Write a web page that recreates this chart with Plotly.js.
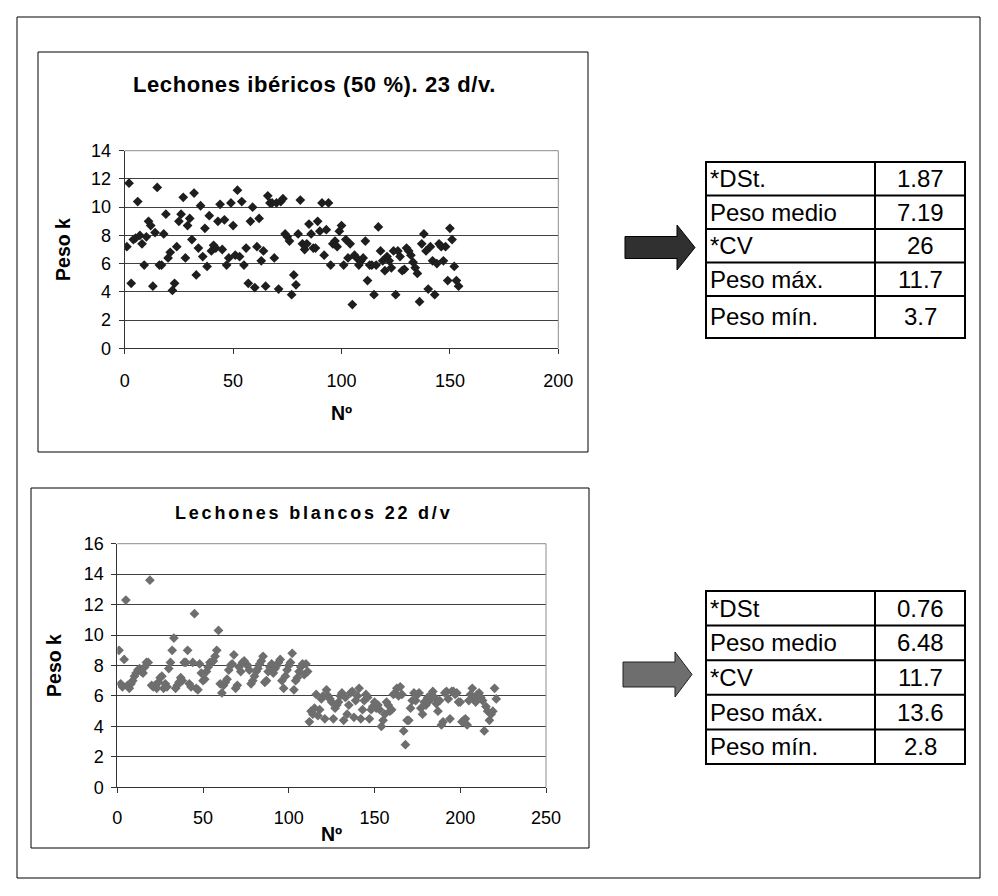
<!DOCTYPE html>
<html>
<head>
<meta charset="utf-8">
<script src="https://cdn.plot.ly/plotly-3.0.1.min.js"></script>
<style>
  html, body { margin: 0; padding: 0; background: #fff; }
  #chart { width: 998px; height: 896px; }
</style>
</head>
<body>
<div id="chart"></div>
<script>
// ---- Lechones ibéricos (50 %), 23 días de vida ----
const ibericosN = [1,2,3,4,5,6,7,8,9,10,11,12,13,14,15,16,17,18,19,20,21,22,23,24,25,26,27,28,29,30,
  31,32,33,34,35,36,37,38,39,40,41,42,43,44,45,46,47,48,49,50,51,52,53,54,55,56,57,58,59,60,
  61,62,63,64,65,66,67,68,69,70,71,72,73,74,75,76,77,78,79,80,81,82,83,84,85,86,87,88,89,90,
  91,92,93,94,95,96,97,98,99,100,101,102,103,104,105,106,107,108,109,110,111,112,113,114,115,116,117,118,119,120,
  121,122,123,124,125,126,127,128,129,130,131,132,133,134,135,136,137,138,139,140,141,142,143,144,145,146,147,148,149,150,
  151,152,153,154];
const ibericosPeso = [7.2,11.7,4.6,7.7,7.8,10.4,8.0,7.4,5.9,7.9,9.0,8.7,4.4,8.2,11.4,5.9,5.9,8.1,9.5,6.4,
  6.8,4.1,4.6,7.2,9.0,9.5,10.7,6.4,8.7,9.2,7.7,11.0,5.2,7.1,10.1,6.5,8.5,5.8,9.4,6.9,
  7.3,7.1,9.0,10.2,7.0,9.1,5.9,6.4,10.3,8.7,6.6,11.2,6.5,10.4,5.9,7.1,4.6,9.0,10.0,4.3,
  7.2,9.2,6.2,6.9,4.4,10.8,10.3,10.3,6.4,10.3,4.2,10.4,10.6,8.1,7.9,7.6,3.8,5.2,4.5,8.1,
  10.5,7.4,7.0,7.4,8.8,8.1,7.1,7.1,9.0,8.3,10.3,6.6,8.4,10.3,5.9,7.4,7.6,7.2,8.3,8.7,
  5.9,7.7,6.4,7.4,3.1,6.6,6.4,5.9,6.2,6.4,7.6,4.8,5.9,5.9,3.8,5.9,8.6,6.9,6.2,5.5,
  6.5,6.2,5.7,6.9,3.8,6.9,6.5,5.5,5.6,7.1,6.9,6.6,6.1,5.7,5.3,3.3,7.4,8.1,6.9,4.2,
  7.2,6.2,3.8,6.0,7.4,7.2,6.2,7.2,4.8,8.5,7.7,5.8,4.8,4.4];

// ---- Lechones blancos, 22 días de vida ----
const blancosN = [1,2,3,4,5,6,7,8,9,10,11,12,13,14,15,16,17,18,19,20,21,22,23,24,25,26,27,28,29,30,
  31,32,33,34,35,36,37,38,39,40,41,42,43,44,45,46,47,48,49,50,51,52,53,54,55,56,57,58,59,60,
  61,62,63,64,65,66,67,68,69,70,71,72,73,74,75,76,77,78,79,80,81,82,83,84,85,86,87,88,89,90,
  91,92,93,94,95,96,97,98,99,100,101,102,103,104,105,106,107,108,109,110,111,112,113,114,115,116,117,118,119,120,
  121,122,123,124,125,126,127,128,129,130,131,132,133,134,135,136,137,138,139,140,141,142,143,144,145,146,147,148,149,150,
  151,152,153,154,155,156,157,158,159,160,161,162,163,164,165,166,167,168,169,170,171,172,173,174,175,176,177,178,179,180,
  181,182,183,184,185,186,187,188,189,190,191,192,193,194,195,196,197,198,199,200,201,202,203,204,205,206,207,208,209,210,
  211,212,213,214,215,216,217,218,219,220,221];
const blancosPeso = [9.0,6.8,6.6,8.4,12.3,6.7,6.5,6.8,7.0,7.3,7.5,7.7,7.8,7.6,7.5,7.9,8.2,8.2,13.6,6.7,
  6.6,6.7,6.5,6.9,7.2,7.3,6.5,6.8,6.6,7.8,8.2,9.0,9.8,6.5,6.7,6.9,7.2,7.0,8.2,8.2,
  9.0,6.8,6.6,8.2,11.4,6.5,6.4,8.1,7.5,7.0,7.1,7.6,7.9,8.2,8.2,8.3,8.6,9.0,10.3,6.8,
  6.2,6.7,6.9,7.1,7.7,8.0,8.1,8.7,6.5,6.7,7.9,7.6,8.2,8.3,8.1,8.0,7.7,6.8,7.0,7.3,
  7.6,7.8,8.1,8.3,8.6,6.9,7.0,7.6,7.9,8.1,7.5,7.8,8.0,8.2,8.4,7.0,6.5,7.3,7.7,8.0,
  8.2,8.8,6.4,7.0,7.2,7.6,7.9,8.1,7.4,8.1,7.6,4.3,5.0,4.8,5.2,6.1,4.7,5.1,5.8,6.0,
  4.5,6.4,6.0,5.8,5.6,4.5,5.2,5.4,5.6,6.0,6.2,4.4,5.9,4.8,5.4,6.2,6.3,4.6,5.7,6.0,
  6.5,4.5,5.1,5.7,6.1,5.9,4.5,5.1,5.3,5.6,5.2,5.4,5.1,4.0,4.4,4.8,5.6,5.4,5.0,5.1,
  6.1,6.2,6.5,6.0,6.6,6.1,3.7,2.8,4.4,4.4,5.2,5.7,6.2,5.7,6.1,6.2,5.2,4.8,5.6,5.4,
  5.9,5.7,6.1,6.3,5.9,5.5,5.0,5.7,4.1,4.3,6.2,6.3,5.8,4.5,6.3,6.3,6.1,6.2,5.6,5.6,
  4.3,4.4,4.5,4.1,5.7,6.1,6.5,5.8,5.6,6.1,6.2,5.9,5.7,3.7,5.3,5.0,4.4,4.8,5.0,6.5,5.8];

// Axis ticks
const xTicksIbericos = [0, 50, 100, 150, 200];
const yTicksIbericos = [0, 2, 4, 6, 8, 10, 12, 14];
const xTicksBlancos = [0, 50, 100, 150, 200, 250];
const yTicksBlancos = [0, 2, 4, 6, 8, 10, 12, 14, 16];

// Summary tables
const statLabelsIbericos = ['*DSt.', 'Peso medio', '*CV', 'Peso máx.', 'Peso mín.'];
const statValuesIbericos = ['1.87', '7.19', '26', '11.7', '3.7'];
const statLabelsBlancos = ['*DSt', 'Peso medio', '*CV', 'Peso máx.', 'Peso mín.'];
const statValuesBlancos = ['0.76', '6.48', '11.7', '13.6', '2.8'];

// ---- page geometry (pixels) ----
const W = 998, H = 896;
const fx = p => p / W;          // pixel -> paper x
const fy = p => 1 - p / H;      // pixel -> paper y
const FONT = 'Liberation Sans, Arial, sans-serif';

const plotTop = { x0: 124.7, x1: 558.3, y0: 150.7, y1: 348.3 };
const plotBot = { x0: 117.3, x1: 546.0, y0: 543.7, y1: 787.3 };

const tickFont = { family: FONT, size: 18, color: '#000' };
const axisTitleFont = { family: FONT, size: 19.5, color: '#000', weight: 'bold' };

function xAxis(plot, ticks, range, anchor, standoff, titleStandoff) {
  return {
    domain: [fx(plot.x0), fx(plot.x1)], range: range, anchor: anchor,
    tickvals: ticks, ticks: 'outside', ticklen: 5, tickwidth: 1, tickcolor: '#333',
    showline: true, linecolor: '#333', linewidth: 1,
    showgrid: false, zeroline: false, tickfont: tickFont,
    ticklabelstandoff: standoff,
    title: { text: 'Nº', font: axisTitleFont, standoff: titleStandoff },
    fixedrange: true
  };
}
function yAxis(plot, ticks, range, anchor, titleStandoff) {
  return {
    domain: [fy(plot.y1), fy(plot.y0)], range: range, anchor: anchor,
    tickvals: ticks, ticks: 'outside', ticklen: 5, tickwidth: 1, tickcolor: '#333',
    showline: true, linecolor: '#333', linewidth: 1,
    showgrid: true, gridcolor: '#404040', gridwidth: 1,
    zeroline: false, tickfont: tickFont, ticklabelstandoff: 4,
    title: { text: 'Peso k', font: axisTitleFont, standoff: titleStandoff },
    fixedrange: true
  };
}

const traces = [
  { type: 'scatter', mode: 'markers', x: ibericosN, y: ibericosPeso, xaxis: 'x', yaxis: 'y',
    marker: { symbol: 'diamond', size: 7.5, color: '#1e1e1e' }, hoverinfo: 'x+y' },
  { type: 'scatter', mode: 'markers', x: blancosN, y: blancosPeso, xaxis: 'x2', yaxis: 'y2',
    marker: { symbol: 'diamond', size: 7.5, color: '#6e6e6e' }, hoverinfo: 'x+y' }
];

const shapes = [];
const annotations = [];
function rect(x0, y0, x1, y1, color, width, layer) {
  shapes.push({ type: 'rect', xref: 'paper', yref: 'paper',
    x0: fx(x0), x1: fx(x1), y0: fy(y1), y1: fy(y0),
    line: { color: color, width: width }, fillcolor: 'rgba(0,0,0,0)', layer: layer || 'below' });
}
function line(x0, y0, x1, y1, color, width, layer) {
  shapes.push({ type: 'line', xref: 'paper', yref: 'paper',
    x0: fx(x0), x1: fx(x1), y0: fy(y0), y1: fy(y1),
    line: { color: color, width: width }, layer: layer || 'above' });
}

// outer frame and chart boxes
rect(17, 17, 980, 878, '#000', 1);
rect(38, 52, 588, 452, '#000', 1);
rect(31, 488, 589, 848, '#000', 1);

// plot-area edges (top and right)
[plotTop, plotBot].forEach(p => {
  line(p.x0, p.y0, p.x1, p.y0, '#8c8c8c', 1);
  line(p.x1, p.y0, p.x1, p.y1, '#8c8c8c', 1);
});

// chart titles
annotations.push({ xref: 'paper', yref: 'paper', x: fx(314), y: fy(85), xanchor: 'center', yanchor: 'middle',
  text: '<span style="letter-spacing:0.6px">Lechones ibéricos (50 %). 23 d/v.</span>', showarrow: false,
  font: { family: FONT, size: 22, color: '#000', weight: 'bold' } });
annotations.push({ xref: 'paper', yref: 'paper', x: fx(313), y: fy(513), xanchor: 'center', yanchor: 'middle',
  text: '<span style="letter-spacing:2.8px">Lechones blancos 22 d/v</span>', showarrow: false,
  font: { family: FONT, size: 18, color: '#000', weight: 'bold' } });

// arrows pointing to the tables
function arrow(x0, xHead, xTip, yc, shaftHalf, headHalf, fill, stroke) {
  const pts = [[x0, yc - shaftHalf], [xHead, yc - shaftHalf], [xHead, yc - headHalf], [xTip, yc],
               [xHead, yc + headHalf], [xHead, yc + shaftHalf], [x0, yc + shaftHalf]];
  const d = 'M ' + pts.map(p => fx(p[0]).toFixed(5) + ',' + fy(p[1]).toFixed(5)).join(' L ') + ' Z';
  shapes.push({ type: 'path', xref: 'paper', yref: 'paper', path: d,
    fillcolor: fill, line: { color: stroke, width: 1 }, layer: 'above' });
}
arrow(625, 677, 695, 247.5, 11, 22.5, '#303030', '#000');
arrow(623, 675, 692, 674.5, 12.5, 22.5, '#6e6e6e', '#222');

// summary tables
function table(labels, values, rows, xl, xm, xr) {
  rect(xl, rows[0], xr, rows[rows.length - 1], '#000', 2, 'above');
  line(xm, rows[0], xm, rows[rows.length - 1], '#000', 2);
  for (let i = 1; i < rows.length - 1; i++) line(xl, rows[i], xr, rows[i], '#000', 2);
  labels.forEach((lab, i) => {
    const yc = (rows[i] + rows[i + 1]) / 2;
    annotations.push({ xref: 'paper', yref: 'paper', x: fx(xl + 2), y: fy(yc), xanchor: 'left', yanchor: 'middle',
      text: lab, showarrow: false, font: { family: FONT, size: 24, color: '#000' } });
    annotations.push({ xref: 'paper', yref: 'paper', x: fx((xm + xr) / 2), y: fy(yc), xanchor: 'center', yanchor: 'middle',
      text: values[i], showarrow: false, font: { family: FONT, size: 24, color: '#000' } });
  });
}
table(statLabelsIbericos, statValuesIbericos, [162, 195.5, 229, 262.5, 296, 338], 706, 875, 965);
table(statLabelsBlancos, statValuesBlancos, [591, 625.6, 660.2, 694.8, 729.4, 764], 706, 875, 965);

const layout = {
  width: W, height: H,
  margin: { l: 0, r: 0, t: 0, b: 0, pad: 0 },
  paper_bgcolor: '#fff', plot_bgcolor: 'rgba(0,0,0,0)',
  showlegend: false,
  font: { family: FONT, color: '#000' },
  xaxis: xAxis(plotTop, xTicksIbericos, [0, 200], 'y', 11, 16),
  yaxis: yAxis(plotTop, yTicksIbericos, [0, 14], 'x', 15),
  xaxis2: xAxis(plotBot, xTicksBlancos, [0, 250], 'y2', 9, 0),
  yaxis2: yAxis(plotBot, yTicksBlancos, [0, 16], 'x2', 16),
  shapes: shapes,
  annotations: annotations
};

Plotly.newPlot('chart', traces, layout, { displayModeBar: false, staticPlot: true });
</script>
</body>
</html>
